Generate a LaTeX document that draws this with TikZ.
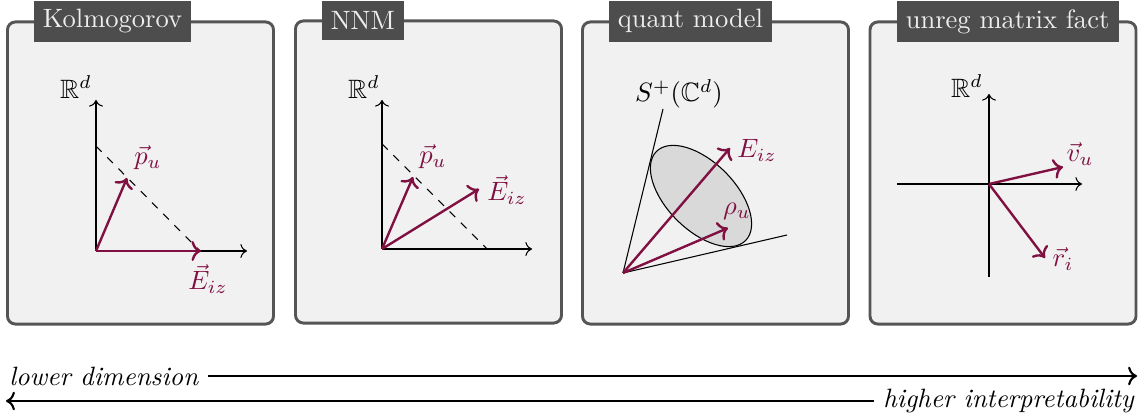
\documentclass[tikz,border=0pt]{standalone}
\usepackage{amsmath,amssymb}
\usetikzlibrary{arrows.meta}
\definecolor{vec}{RGB}{128,16,66}
\definecolor{panelfill}{RGB}{241,241,241}
\definecolor{panelline}{RGB}{85,85,85}
\definecolor{tagfill}{RGB}{77,77,77}
\definecolor{tagtext}{RGB}{238,238,238}
\definecolor{ellfill}{RGB}{217,217,217}
\tikzset{
  panel/.style={draw=panelline, fill=panelfill, line width=1.1pt, rounded corners=3pt,
    minimum width=100.3pt, minimum height=113.9pt, inner sep=0pt},
  tag/.style={fill=tagfill, text=tagtext, anchor=north west, minimum height=15pt, inner xsep=3.5pt},
  axis/.style={->, line width=0.4pt},
  vecarrow/.style={->, draw=vec, line width=0.9pt},
  veclabel/.style={text=vec, inner sep=0pt},
  blacklabel/.style={inner sep=0pt},
  guide/.style={dashed, line width=0.4pt},
  cone/.style={line width=0.4pt},
  scalearrow/.style={->, line width=0.8pt},
}
\begin{document}
\begin{tikzpicture}[x=0.377pt, y=-0.377pt]
\useasboundingbox (0,0) rectangle (1141,417);

% panels
\node[panel] (P1) at (140.5,173) {};
\node[panel] (P2) at (428.5,172) {};
\node[panel] (P3) at (715.5,173) {};
\node[panel] (P4) at (1003,173) {};
\node[tag] (T1) at (33,0) {Kolmogorov};
\node[tag] (T2) at (321,0) {NNM};
\node[tag] (T3) at (608,0) {quant model};
\node[tag] (T4) at (896,0) {unreg matrix fact};

% panel 1: Kolmogorov
\coordinate (o1) at (96,251);
\coordinate (y1) at (96,100);
\coordinate (x1) at (247,251);
\coordinate (d1a) at (96,146);
\coordinate (d1b) at (200,251);
\coordinate (p1) at (127,178);
\coordinate (e1) at (201,251);
\draw[axis] (o1) -- (y1);
\draw[axis] (o1) -- (x1);
\draw[guide] (d1a) -- (d1b);
\draw[vecarrow] (o1) -- (p1);
\draw[vecarrow] (o1) -- (e1);
\node[blacklabel] (R1) at (76,87) {$\mathbb{R}^d$};
\node[veclabel] (pl1) at (148,158) {$\vec{p}_u$};
\node[veclabel] (el1) at (208,279) {$\vec{E}_{iz}$};

% panel 2: NNM
\coordinate (o2) at (382,249);
\coordinate (y2) at (382,100);
\coordinate (x2) at (532,249);
\coordinate (d2a) at (382,144);
\coordinate (d2b) at (487,249);
\coordinate (p2) at (413,177);
\coordinate (e2) at (479,189);
\draw[axis] (o2) -- (y2);
\draw[axis] (o2) -- (x2);
\draw[guide] (d2a) -- (d2b);
\draw[vecarrow] (o2) -- (p2);
\draw[vecarrow] (o2) -- (e2);
\node[blacklabel] (R2) at (364,87) {$\mathbb{R}^d$};
\node[veclabel] (pl2) at (433,157) {$\vec{p}_u$};
\node[veclabel] (el2) at (507,190) {$\vec{E}_{iz}$};

% panel 3: quant model
\coordinate (a3) at (623,273);
\coordinate (l3a) at (663,109);
\coordinate (l3b) at (787,235);
\coordinate (c3) at (701,196);
\coordinate (e3) at (730,148);
\coordinate (r3) at (728,228);
\draw[cone] (a3) -- (l3a);
\draw[cone] (a3) -- (l3b);
\draw[cone, fill=ellfill] (c3) ellipse [x radius=63, y radius=34, rotate=-45];
\draw[vecarrow] (a3) -- (e3);
\draw[vecarrow] (a3) -- (r3);
\node[blacklabel] (S3) at (679,94) {$S^+(\mathbb{C}^d)$};
\node[veclabel] (el3) at (757,150) {$E_{iz}$};
\node[veclabel] (rl3) at (737,211) {$\rho_u$};

% panel 4: unreg matrix fact
\coordinate (o4) at (989,184);
\coordinate (xa4) at (897,184);
\coordinate (xb4) at (1082,184);
\coordinate (ya4) at (989,277);
\coordinate (yb4) at (989,94);
\coordinate (v4) at (1063,167);
\coordinate (r4) at (1045,258);
\draw[axis] (xa4) -- (xb4);
\draw[axis] (ya4) -- (yb4);
\draw[vecarrow] (o4) -- (v4);
\draw[vecarrow] (o4) -- (r4);
\node[blacklabel] (R4) at (967,86) {$\mathbb{R}^d$};
\node[veclabel] (vl4) at (1080,154) {$\vec{v}_u$};
\node[veclabel] (rl4) at (1063,259) {$\vec{r}_i$};

% bottom scale arrows
\node[anchor=west] (ld) at (0,376) {\textit{lower dimension}};
\coordinate (ldend) at (1137,376);
\draw[scalearrow] (ld.east) -- (ldend);
\node[anchor=east] (hi) at (1144,401) {\textit{higher interpretability}};
\coordinate (hiend) at (6,401);
\draw[scalearrow] (hi.west) -- (hiend);
\end{tikzpicture}
\end{document}
